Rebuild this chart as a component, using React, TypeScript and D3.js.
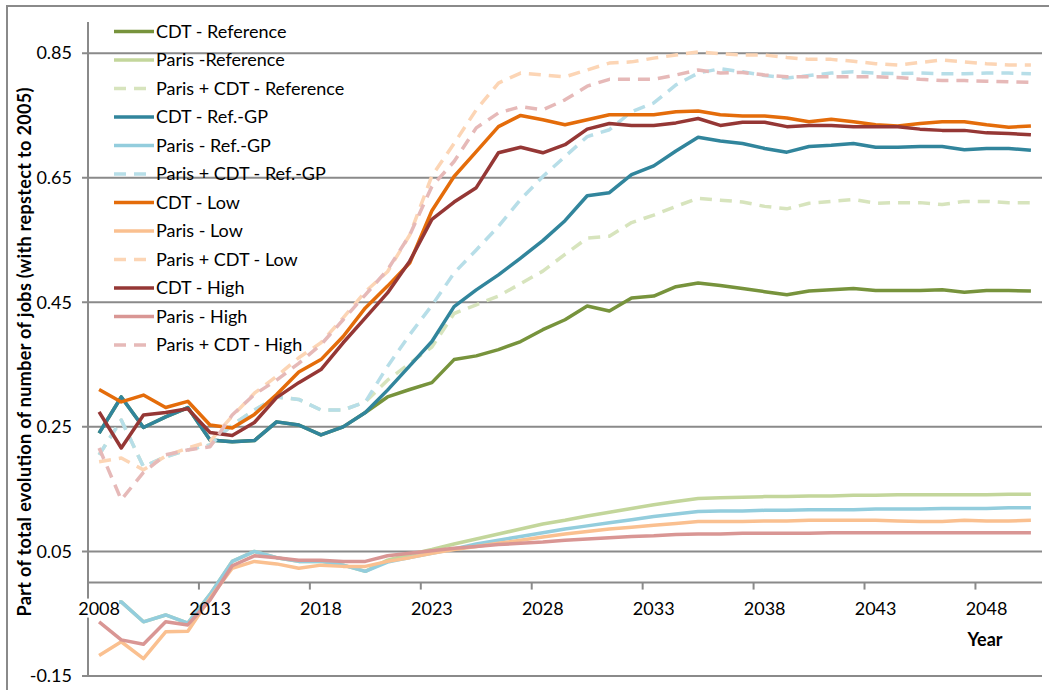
import * as d3 from "d3";
import React from "react";

// categories
const years = d3.range(2008, 2051);
const yTicks = [-0.15, 0.05, 0.25, 0.45, 0.65, 0.85];
const xLabelYears = [2008, 2013, 2018, 2023, 2028, 2033, 2038, 2043, 2048];

// series values, 2008 -> 2050
const cdtReference = [
  0.240, 0.298, 0.249, 0.266, 0.281, 0.229, 0.226, 0.228, 0.258, 0.253, 0.237, 0.250,
  0.273, 0.298, 0.310, 0.321, 0.358, 0.364, 0.374, 0.387, 0.406, 0.422,
  0.444, 0.436, 0.457, 0.460, 0.475, 0.481, 0.477, 0.472, 0.467, 0.462,
  0.468, 0.470, 0.472, 0.469, 0.469, 0.469, 0.470, 0.466, 0.469, 0.469,
  0.468,
];
const parisReference = [
  -0.030, -0.031, -0.063, -0.052, -0.065, -0.019, 0.034, 0.050, 0.040, 0.034, 0.034, 0.028,
  0.018, 0.036, 0.045, 0.053, 0.062, 0.070, 0.078, 0.086, 0.094, 0.100,
  0.107, 0.113, 0.119, 0.125, 0.130, 0.135, 0.136, 0.137, 0.138, 0.138,
  0.139, 0.139, 0.140, 0.140, 0.141, 0.141, 0.141, 0.141, 0.141, 0.142,
  0.142,
];
const parisCdtReference = [
  0.205, 0.261, 0.186, 0.202, 0.213, 0.221, 0.253, 0.277, 0.298, 0.294, 0.277, 0.277,
  0.290, 0.325, 0.352, 0.378, 0.432, 0.446, 0.460, 0.480, 0.500, 0.527,
  0.553, 0.556, 0.578, 0.590, 0.604, 0.617, 0.614, 0.611, 0.604, 0.600,
  0.609, 0.612, 0.615, 0.609, 0.610, 0.610, 0.607, 0.612, 0.612, 0.610,
  0.610,
];
const cdtRefGP = [
  0.240, 0.298, 0.249, 0.266, 0.281, 0.229, 0.226, 0.228, 0.258, 0.253, 0.237, 0.250,
  0.273, 0.309, 0.348, 0.387, 0.443, 0.470, 0.494, 0.521, 0.549, 0.581,
  0.621, 0.626, 0.655, 0.669, 0.693, 0.715, 0.709, 0.705, 0.697, 0.691,
  0.700, 0.702, 0.705, 0.699, 0.699, 0.700, 0.700, 0.695, 0.697, 0.697,
  0.694,
];
const parisRefGP = [
  -0.030, -0.031, -0.063, -0.052, -0.065, -0.019, 0.034, 0.050, 0.040, 0.034, 0.034, 0.028,
  0.018, 0.033, 0.040, 0.047, 0.054, 0.062, 0.068, 0.074, 0.080, 0.086,
  0.091, 0.096, 0.101, 0.106, 0.110, 0.114, 0.115, 0.115, 0.116, 0.116,
  0.117, 0.117, 0.117, 0.118, 0.118, 0.118, 0.119, 0.119, 0.119, 0.120,
  0.120,
];
const parisCdtRefGP = [
  0.205, 0.261, 0.186, 0.202, 0.213, 0.221, 0.253, 0.277, 0.298, 0.294, 0.277, 0.277,
  0.290, 0.347, 0.398, 0.445, 0.497, 0.534, 0.572, 0.615, 0.652, 0.684,
  0.716, 0.727, 0.756, 0.770, 0.799, 0.818, 0.825, 0.820, 0.814, 0.810,
  0.814, 0.818, 0.820, 0.818, 0.817, 0.818, 0.817, 0.817, 0.818, 0.818,
  0.817,
];
const cdtLow = [
  0.310, 0.290, 0.301, 0.281, 0.291, 0.253, 0.248, 0.270, 0.302, 0.338, 0.358, 0.395,
  0.441, 0.476, 0.513, 0.597, 0.652, 0.692, 0.732, 0.750, 0.743, 0.735,
  0.743, 0.751, 0.751, 0.751, 0.756, 0.757, 0.751, 0.749, 0.749, 0.746,
  0.740, 0.744, 0.740, 0.735, 0.733, 0.737, 0.740, 0.740, 0.735, 0.731,
  0.733,
];
const parisLow = [
  -0.117, -0.095, -0.122, -0.079, -0.078, -0.025, 0.023, 0.034, 0.030, 0.023, 0.028, 0.026,
  0.026, 0.034, 0.040, 0.047, 0.053, 0.058, 0.063, 0.068, 0.073, 0.078,
  0.082, 0.086, 0.089, 0.092, 0.095, 0.098, 0.098, 0.098, 0.099, 0.099,
  0.100, 0.100, 0.100, 0.100, 0.099, 0.098, 0.098, 0.100, 0.099, 0.099,
  0.100,
];
const parisCdtLow = [
  0.194, 0.200, 0.181, 0.203, 0.216, 0.227, 0.267, 0.304, 0.331, 0.361, 0.385, 0.425,
  0.467, 0.499, 0.558, 0.653, 0.705, 0.759, 0.802, 0.818, 0.815, 0.812,
  0.823, 0.834, 0.836, 0.842, 0.847, 0.852, 0.849, 0.847, 0.847, 0.843,
  0.840, 0.840, 0.837, 0.833, 0.831, 0.835, 0.839, 0.836, 0.833, 0.831,
  0.831,
];
const cdtHigh = [
  0.274, 0.216, 0.269, 0.273, 0.279, 0.241, 0.236, 0.257, 0.297, 0.321, 0.342, 0.385,
  0.425, 0.465, 0.516, 0.583, 0.611, 0.634, 0.690, 0.699, 0.690, 0.703,
  0.728, 0.737, 0.734, 0.734, 0.738, 0.745, 0.734, 0.739, 0.739, 0.732,
  0.734, 0.734, 0.732, 0.732, 0.732, 0.728, 0.726, 0.726, 0.722, 0.721,
  0.719,
];
const parisHigh = [
  -0.063, -0.092, -0.099, -0.063, -0.068, -0.028, 0.027, 0.043, 0.040, 0.036, 0.036, 0.034,
  0.034, 0.043, 0.047, 0.051, 0.055, 0.058, 0.061, 0.063, 0.065, 0.068,
  0.070, 0.072, 0.074, 0.075, 0.077, 0.078, 0.078, 0.079, 0.079, 0.079,
  0.079, 0.080, 0.080, 0.080, 0.080, 0.080, 0.080, 0.080, 0.080, 0.080,
  0.080,
];
const parisCdtHigh = [
  0.216, 0.133, 0.177, 0.205, 0.213, 0.218, 0.269, 0.302, 0.325, 0.352, 0.382, 0.422,
  0.462, 0.502, 0.558, 0.636, 0.676, 0.730, 0.754, 0.764, 0.759, 0.775,
  0.797, 0.808, 0.808, 0.808, 0.815, 0.823, 0.818, 0.819, 0.815, 0.812,
  0.812, 0.812, 0.812, 0.812, 0.811, 0.808, 0.806, 0.806, 0.805, 0.804,
  0.803,
];

const seriesNames = [
  "CDT - Reference",
  "Paris -Reference",
  "Paris + CDT - Reference",
  "CDT - Ref.-GP",
  "Paris - Ref.-GP",
  "Paris + CDT - Ref.-GP",
  "CDT - Low",
  "Paris - Low",
  "Paris + CDT - Low",
  "CDT - High",
  "Paris - High",
  "Paris + CDT - High",
];
const seriesValues = [
  cdtReference, parisReference, parisCdtReference,
  cdtRefGP, parisRefGP, parisCdtRefGP,
  cdtLow, parisLow, parisCdtLow,
  cdtHigh, parisHigh, parisCdtHigh,
];
const seriesColors = [
  "#77933c", "#c3d69b", "#d7e4bd",
  "#31859c", "#93cddd", "#b7dee8",
  "#e46c0a", "#fac090", "#fcd5b5",
  "#953735", "#d99694", "#e6b9b8",
];
const seriesDashed = [false, false, true, false, false, true, false, false, true, false, false, true];

const W = 1049;
const H = 690;
const FONT = "Lato, 'Open Sans', sans-serif";
const GRID = "#8a8a8a";
const FS = 18;

export default function App() {
  const x = d3.scalePoint<number>().domain(years).range([88, 1042]).padding(0.5);
  const y = d3.scaleLinear().domain([-0.15, 0.9]).range([676, 22]);
  const step = x.step();
  const line = d3
    .line<number>()
    .x((_, i) => x(years[i])!)
    .y((d) => y(d));

  const xTickYears = xLabelYears.slice(1);

  return (
    <svg
      width={W}
      height={H}
      style={{ position: "absolute", left: 0, top: 0, background: "#fff" }}
      fontFamily={FONT}
    >
      {/* chart border */}
      <rect x={7} y={6} width={W + 20} height={H + 20} fill="#fff" stroke={GRID} strokeWidth={2} />

      {/* gridlines + y ticks */}
      {yTicks.map((t) => (
        <g key={t}>
          <line x1={82} x2={1042} y1={y(t)} y2={y(t)} stroke={GRID} strokeWidth={2} />
          <text x={72} y={y(t)} dy="0.35em" textAnchor="end" fontSize={FS} fill="#000">
            {t.toFixed(2)}
          </text>
        </g>
      ))}

      {/* y axis */}
      <line x1={88} x2={88} y1={22} y2={676} stroke={GRID} strokeWidth={2} />

      {/* x axis at zero */}
      <line x1={88} x2={1042} y1={y(0)} y2={y(0)} stroke={GRID} strokeWidth={2} />
      {xTickYears.map((yr) => (
        <line
          key={yr}
          x1={x(yr)! - step / 2}
          x2={x(yr)! - step / 2}
          y1={y(0)}
          y2={y(0) + 7}
          stroke={GRID}
          strokeWidth={2}
        />
      ))}

      {/* series */}
      {seriesValues.map((vals, i) => (
        <path
          key={seriesNames[i]}
          d={line(vals) || ""}
          fill="none"
          stroke={seriesColors[i]}
          strokeWidth={3.5}
          strokeLinejoin="round"
          strokeDasharray={seriesDashed[i] ? "12,8" : undefined}
        />
      ))}

      {/* x labels (the first one sits on a white box, hiding the line under it) */}
      {xLabelYears.map((yr, i) => (
        <g key={yr}>
          {i === 0 && <rect x={x(yr)! - 20} y={y(0) + 16} width={40} height={19} fill="#fff" />}
          <text x={x(yr)!} y={y(0) + 26} dy="0.35em" textAnchor="middle" fontSize={FS} fill="#000">
            {yr}
          </text>
        </g>
      ))}
      <text x={985} y={640} dy="0.35em" textAnchor="middle" fontSize={FS} fontWeight="bold" fill="#000">
        Year
      </text>

      {/* y title */}
      <text
        transform={`translate(25,${352}) rotate(-90)`}
        textAnchor="middle"
        dy="0.35em"
        fontSize={18}
        fontWeight="bold"
        fill="#000"
        textLength={529}
      >
        Part of total evolution of number of jobs (with repstect to 2005)
      </text>

      {/* legend */}
      {seriesNames.map((name, i) => {
        const ly = 31.5 + i * 28.5;
        return (
          <g key={name}>
            <line
              x1={114}
              x2={154}
              y1={ly}
              y2={ly}
              stroke={seriesColors[i]}
              strokeWidth={3.5}
              strokeDasharray={seriesDashed[i] ? "12,8" : undefined}
            />
            <text x={156} y={ly} dy="0.35em" fontSize={FS} fill="#000">
              {name}
            </text>
          </g>
        );
      })}
    </svg>
  );
}
